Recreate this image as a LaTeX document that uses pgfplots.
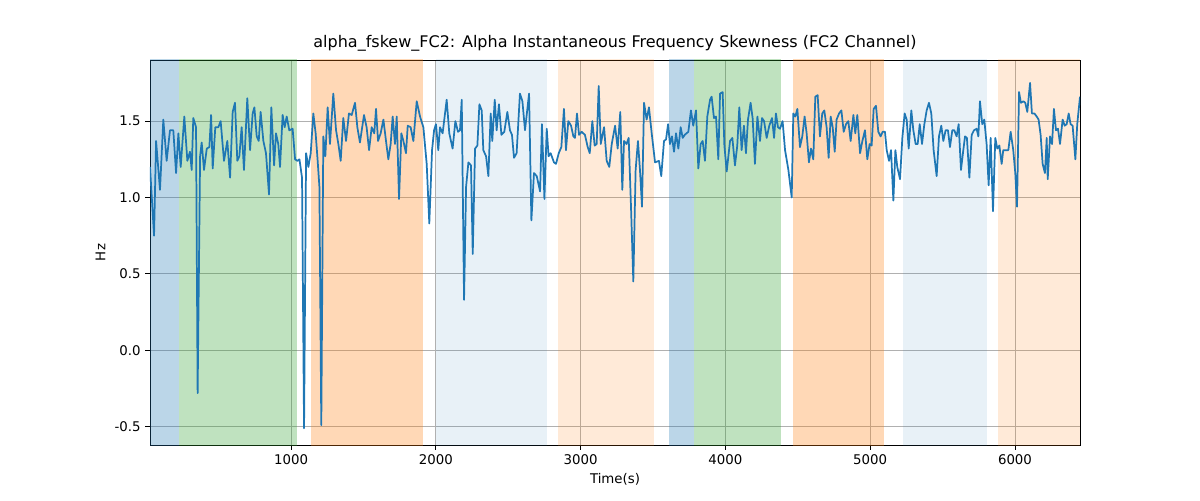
\documentclass[border=0pt]{standalone}
\usepackage{pgfplots}
\pgfplotsset{compat=1.18}
\usepackage{fontspec}
\setmainfont{DejaVu Sans}
\definecolor{tblue}{HTML}{1F77B4}
\definecolor{tgreen}{HTML}{2CA02C}
\definecolor{torange}{HTML}{FF7F0E}
\definecolor{gridc}{HTML}{B0B0B0}
\begin{document}
\begin{tikzpicture}
\begin{axis}[
 scale only axis, width=697.5pt, height=288.75pt,
 xmin=26, xmax=6449, ymin=-0.62, ymax=1.90,
 xtick={1000,2000,3000,4000,5000,6000},
 ytick={-0.5,0,0.5,1.0,1.5},
 xtick pos=bottom, ytick pos=left,
 yticklabel style={/pgf/number format/.cd,fixed,fixed zerofill,precision=1},
 /pgf/number format/assume math mode=true,
 xticklabel style={/pgf/number format/1000 sep={}},
 tick label style={font=\fontsize{10}{12}\selectfont},
 label style={font=\fontsize{10}{12}\selectfont},
 grid=major, grid style={color=gridc, line width=0.6pt},
 tick align=outside, tick style={black, line width=0.6pt}, major tick length=3.5pt,
 xlabel={Time(s)}, ylabel={Hz},
 title={alpha\_fskew\_FC2: Alpha Instantaneous Frequency Skewness (FC2 Channel)},
 title style={font=\fontsize{12}{14}\selectfont, yshift=-3pt},
 axis line style={line width=0.6pt},
 clip=true,
]
\fill[tblue, opacity=0.3] (axis cs:26,-1) rectangle (axis cs:226,2);
\fill[tgreen, opacity=0.3] (axis cs:226,-1) rectangle (axis cs:1041,2);
\fill[torange, opacity=0.3] (axis cs:1137,-1) rectangle (axis cs:1911,2);
\fill[tblue, opacity=0.1] (axis cs:2001,-1) rectangle (axis cs:2768,2);
\fill[torange, opacity=0.16] (axis cs:2844,-1) rectangle (axis cs:3507,2);
\fill[tblue, opacity=0.3] (axis cs:3611,-1) rectangle (axis cs:3784,2);
\fill[tgreen, opacity=0.3] (axis cs:3784,-1) rectangle (axis cs:4385,2);
\fill[torange, opacity=0.3] (axis cs:4467,-1) rectangle (axis cs:5096,2);
\fill[tblue, opacity=0.1] (axis cs:5228,-1) rectangle (axis cs:5808,2);
\fill[torange, opacity=0.16] (axis cs:5880,-1) rectangle (axis cs:6449,2);
\addplot[tblue, line width=1.3pt, line join=round] coordinates {
(26,1.20)(54,0.75)(68,1.37)(95,1.05)(118,1.51)(141,1.24)(164,1.44)(187,1.44)(206,1.16)(222,1.42)
(238,1.20)(263,1.53)(284,1.24)(302,1.30)(314,1.18)(325,1.52)(344,1.46)(355,-0.28)(372,1.27)(383,1.36)
(399,1.18)(418,1.32)(436,1.33)(448,1.54)(459,1.19)(477,1.46)(498,1.46)(514,1.50)(537,1.24)(560,1.37)
(579,1.13)(597,1.56)(613,1.62)(629,1.24)(643,1.27)(659,1.46)(675,1.18)(698,1.65)(717,1.31)(735,1.55)
(747,1.59)(763,1.40)(777,1.37)(790,1.56)(809,1.37)(827,1.29)(848,1.02)(864,1.59)(883,1.21)(896,1.42)
(912,1.35)(924,1.20)(942,1.54)(956,1.46)(970,1.53)(988,1.44)(1011,1.45)(1028,1.25)(1044,1.24)(1058,1.25)
(1076,1.13)(1090,-0.51)(1104,1.29)(1120,1.20)(1136,1.29)(1154,1.55)(1170,1.42)(1184,1.24)(1196,1.07)(1209,-0.49)
(1223,1.40)(1237,1.27)(1253,1.59)(1269,1.35)(1292,1.68)(1311,1.44)(1327,1.35)(1343,1.24)(1361,1.52)(1380,1.37)
(1400,1.55)(1419,1.54)(1442,1.62)(1458,1.46)(1476,1.36)(1504,1.54)(1522,1.46)(1539,1.31)(1557,1.46)(1575,1.42)
(1587,1.58)(1601,1.37)(1619,1.42)(1638,1.51)(1656,1.37)(1672,1.25)(1688,1.35)(1702,1.53)(1718,1.35)(1730,1.53)
(1746,0.99)(1762,1.42)(1776,1.37)(1794,1.29)(1806,1.47)(1826,1.46)(1845,1.37)(1868,1.63)(1891,1.53)(1914,1.46)
(1937,1.22)(1955,0.83)(1974,1.31)(1988,1.44)(2001,1.48)(2017,1.31)(2029,1.46)(2047,1.42)(2075,1.64)(2093,1.42)
(2116,1.32)(2135,1.50)(2153,1.43)(2167,1.44)(2179,1.64)(2195,0.33)(2209,1.07)(2225,1.23)(2243,1.21)(2255,0.63)
(2271,1.32)(2287,1.34)(2301,1.61)(2317,1.57)(2328,1.31)(2347,1.27)(2363,1.14)(2379,1.55)(2390,1.37)(2407,1.64)
(2420,1.44)(2436,1.61)(2453,1.41)(2473,1.43)(2494,1.56)(2512,1.44)(2526,1.41)(2540,1.26)(2558,1.29)(2581,1.68)
(2598,1.63)(2616,1.44)(2644,1.68)(2660,0.85)(2678,1.16)(2697,1.14)(2720,1.04)(2733,1.48)(2750,0.99)(2766,1.45)
(2779,1.27)(2793,1.29)(2816,1.23)(2830,1.22)(2849,1.29)(2867,1.33)(2885,1.58)(2899,1.31)(2915,1.50)(2934,1.47)
(2950,1.40)(2961,1.39)(2975,1.55)(2989,1.41)(3007,1.43)(3030,1.41)(3049,1.33)(3063,1.29)(3081,1.50)(3097,1.34)
(3111,1.35)(3125,1.73)(3139,1.35)(3162,1.46)(3180,1.24)(3198,1.20)(3215,1.35)(3238,1.47)(3256,1.32)(3274,1.56)
(3288,1.05)(3300,1.37)(3318,1.35)(3332,1.39)(3348,0.94)(3364,0.45)(3380,1.18)(3396,1.37)(3410,1.18)(3424,0.94)
(3438,1.62)(3456,1.51)(3472,1.59)(3491,1.42)(3514,1.23)(3541,1.24)(3557,1.14)(3576,1.37)(3590,1.38)(3604,1.48)
(3617,1.35)(3631,1.40)(3645,1.30)(3659,1.42)(3675,1.32)(3691,1.46)(3705,1.39)(3719,1.41)(3744,1.43)(3762,1.57)
(3778,1.47)(3797,1.57)(3813,1.19)(3829,1.35)(3843,1.37)(3859,1.24)(3875,1.53)(3894,1.64)(3905,1.66)(3921,1.52)
(3935,1.53)(3951,1.25)(3963,1.68)(3981,1.69)(3993,1.34)(4009,1.17)(4032,1.37)(4048,1.39)(4066,1.21)(4082,1.34)
(4096,1.59)(4112,1.31)(4128,1.47)(4142,1.29)(4156,1.51)(4174,1.62)(4188,1.52)(4204,1.22)(4221,1.53)(4239,1.37)
(4253,1.52)(4267,1.50)(4285,1.39)(4303,1.47)(4322,1.52)(4336,1.39)(4349,1.55)(4363,1.46)(4377,1.45)(4395,1.50)
(4412,1.31)(4435,1.18)(4458,1.00)(4469,1.55)(4483,1.53)(4497,1.58)(4515,1.33)(4531,1.40)(4547,1.53)(4561,1.42)
(4577,1.23)(4591,1.32)(4607,1.25)(4621,1.66)(4637,1.67)(4653,1.40)(4669,1.55)(4683,1.57)(4699,1.46)(4713,1.26)
(4727,1.53)(4741,1.46)(4755,1.30)(4768,1.51)(4785,1.55)(4801,1.57)(4817,1.43)(4833,1.48)(4849,1.50)(4865,1.37)
(4884,1.54)(4897,1.42)(4911,1.54)(4930,1.29)(4946,1.37)(4964,1.44)(4980,1.25)(4996,1.35)(5010,1.34)(5024,1.58)
(5040,1.60)(5056,1.43)(5072,1.40)(5086,1.43)(5102,1.43)(5114,1.31)(5130,1.24)(5144,1.31)(5160,0.98)(5174,1.31)
(5187,1.20)(5206,1.12)(5222,1.39)(5238,1.55)(5252,1.51)(5266,1.32)(5284,1.57)(5298,1.44)(5314,1.35)(5328,1.35)
(5342,1.48)(5358,1.35)(5374,1.48)(5390,1.57)(5406,1.62)(5422,1.55)(5438,1.31)(5459,1.14)(5475,1.40)(5491,1.47)
(5505,1.37)(5521,1.44)(5537,1.44)(5551,1.33)(5567,1.44)(5581,1.44)(5597,1.40)(5611,1.48)(5627,1.18)(5643,1.31)
(5655,1.40)(5668,1.39)(5685,1.13)(5701,1.41)(5717,1.44)(5735,1.45)(5747,1.40)(5758,1.63)(5774,1.48)(5788,1.51)
(5804,1.35)(5818,1.08)(5832,1.39)(5848,0.91)(5864,1.39)(5878,1.32)(5892,1.34)(5908,1.22)(5919,1.31)(5935,1.31)
(5954,1.31)(5970,1.43)(5988,1.31)(6002,1.16)(6014,0.94)(6028,1.69)(6041,1.62)(6058,1.63)(6071,1.62)(6085,1.56)
(6104,1.75)(6117,1.55)(6134,1.55)(6150,1.53)(6163,1.51)(6177,1.41)(6191,1.22)(6207,1.16)(6219,1.39)(6226,1.12)
(6242,1.40)(6256,1.35)(6269,1.58)(6283,1.44)(6297,1.45)(6311,1.35)(6329,1.51)(6343,1.47)(6357,1.48)(6371,1.55)
(6384,1.48)(6398,1.47)(6417,1.25)(6430,1.48)(6449,1.66)
};
\end{axis}
\pgfresetboundingbox
\path ([shift={(-112.5pt,-41.25pt)}]current axis.south west) rectangle ([shift={(90pt,45pt)}]current axis.north east);
\end{tikzpicture}
\end{document}
